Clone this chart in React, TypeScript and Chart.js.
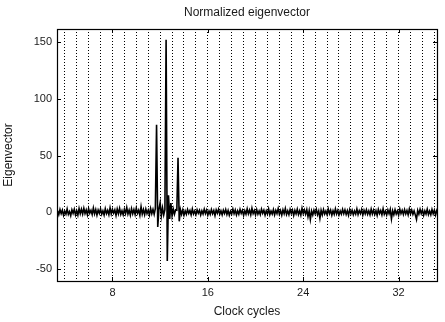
import React, { useEffect, useRef } from 'react';
import { Chart, registerables } from 'chart.js';

Chart.register(...registerables);

const TITLE = 'Normalized eigenvector';
const X_TITLE = 'Clock cycles';
const Y_TITLE = 'Eigenvector';

const X_MIN = 3.35;
const X_MAX = 35.22;
const Y_MIN = -60.6;
const Y_MAX = 161.5;

const X_LABEL_TICKS = [8, 16, 24, 32];
const X_GRID_TICKS = [4, 5, 6, 7, 8, 9, 10, 11, 12, 13, 14, 15, 16, 17, 18, 19, 20, 21, 22, 23, 24, 25, 26, 27, 28, 29, 30, 31, 32, 33, 34, 35];
const Y_TICKS = [-50, 0, 50, 100, 150];

// sampling grid of the trace (clock cycles)
const SAMPLE_START = 3.4;
const SAMPLE_STEP = 0.1;

const eigen = [
  1.4, -2.1, 2.4, -1.2, 1.8, -2.7, 1.0, -1.6, 2.9, -1.9, 0.6, -3.0, 2.2, -0.9, 2.6, -2.3, 1.4, -2.5, 3.3, -1.3,
  2.7, -1.6, 3.5, -1.1, 2.0, -2.3, 3.2, -0.8, 1.7, -2.0, 3.7, -1.4, 2.3, -2.6, 1.9, -1.0, 3.0, -1.7, 1.2, -2.4,
  3.1, -1.2, 1.6, -2.1, 3.9, -1.5, 2.5, -0.7, 2.1, -2.8, 2.8, -1.3, 3.4, -1.9, 1.3, -2.3, 2.6, -1.1, 4.1, -1.6,
  1.9, -2.5, 3.2, -1.4, 2.3, -2.0, 3.6, -0.9, 1.8, -2.7, 4.9, -1.6, 2.4, -2.2, 2.9, -1.2, 1.7, -2.4, 3.3, -1.3,
  2.5, -1.9, 3.3, 77, -13, 2.8, 8.5, -3.3, 3.8, -2.3, 2.3, 152, -43, 15, -6, 8.0, -3.3, 2.8, -1.8, 2.1,
  1.8, 48, -8, 2.3, -1.8, 2.1, -2.6, 1.2, -1.7, 2.5, -1.0, 1.6, -2.3, 2.9, -1.5, 1.1, -2.1, 2.2, -0.8, 1.7,
  -2.4, 1.3, -1.6, 2.7, -1.1, 1.9, -2.5, 1.0, -1.8, 2.3, -1.3, 1.5, -2.9, 2.1, -0.9, 2.6, -1.7, 1.2, -2.2, 1.8,
  -1.1, 2.4, -1.9, 1.6, -2.6, 0.9, -1.5, 2.8, -1.3, 2.0, -2.3, 1.2, -1.8, 2.5, -1.0, 1.7, -2.7, 1.4, -1.6, 3.1,
  -1.4, 1.9, -2.2, 3.5, -1.2, 1.5, -2.4, 2.3, -1.7, 1.1, -2.0, 2.7, -0.9, 1.8, -2.5, 1.3, -1.5, 2.9, -2.1, 1.0,
  -1.6, 2.4, -2.3, 1.7, -1.1, 3.2, -1.8, 1.4, -2.6, 2.1, -1.3, 3.3, -1.9, 1.2, -2.2, 2.5, -1.0, 1.9, -2.8, 1.6,
  -1.4, 2.7, -2.0, 1.3, -2.5, 3.4, -1.2, 2.0, -1.7, 2.3, -3.8, 1.5, -6.3, 1.1, -2.4, 1.8, -1.3, 2.6, -2.1, 1.2,
  -5.3, 1.7, -2.3, 2.4, -1.6, 1.0, -2.1, 2.8, -1.2, 1.9, -2.6, 1.3, -1.8, 3.0, -1.4, 1.6, -2.3, 1.1, -1.7, 2.5,
  -1.2, 2.1, -1.9, 1.4, -2.7, 2.3, -1.3, 1.8, -2.2, 1.1, -1.6, 2.9, -2.0, 1.5, -1.1, 2.4, -2.5, 1.7, -1.4, 2.2,
  -1.8, 1.2, -2.3, 2.7, -1.5, 1.9, -2.0, 1.3, -2.8, 2.5, -1.1, 1.6, -2.2, 3.1, -1.7, 1.0, -2.4, 2.0, -1.3, 2.6,
  -5.8, 1.4, -2.1, 2.2, -1.6, 1.1, -2.5, 2.8, -1.2, 1.7, -1.9, 2.3, -1.5, 1.5, -2.3, 2.9, -1.4, 1.9, -1.8, 1.2,
  -2.3, -6.3, 1.6, -1.7, 2.5, -1.1, 2.0, -2.6, 1.3, -1.5, 2.7, -2.0, 1.1, -2.2, 2.4, -1.3, 1.8, -2.4, 1.5, -1.2,
];

const FONT_FAMILY = '"Liberation Sans", Arial, Helvetica, sans-serif';
const TEXT_COLOR = '#1a1a1a';

const framePlugin = {
  id: 'frameAndTicks',
  afterDatasetsDraw(chart: any) {
    const { ctx, chartArea } = chart;
    const { left, right, top, bottom } = chartArea;
    const xs = chart.scales.x;
    const ys = chart.scales.y;
    const len = 4;
    ctx.save();
    ctx.strokeStyle = '#000';
    ctx.lineWidth = 1;
    ctx.setLineDash([]);
    ctx.beginPath();
    for (const v of X_LABEL_TICKS) {
      const px = Math.round(xs.getPixelForValue(v)) + 0.5;
      ctx.moveTo(px, bottom);
      ctx.lineTo(px, bottom - len);
      ctx.moveTo(px, top);
      ctx.lineTo(px, top + len);
    }
    for (const v of Y_TICKS) {
      const py = Math.round(ys.getPixelForValue(v)) + 0.5;
      ctx.moveTo(left, py);
      ctx.lineTo(left + len, py);
      ctx.moveTo(right, py);
      ctx.lineTo(right - len, py);
    }
    ctx.stroke();
    ctx.lineWidth = 1.2;
    ctx.strokeRect(Math.round(left) + 0.5, Math.round(top) + 0.5, Math.round(right - left), Math.round(bottom - top));
    ctx.restore();
  },
  afterDraw(chart: any) {
    const { ctx, chartArea } = chart;
    ctx.save();
    ctx.fillStyle = TEXT_COLOR;
    ctx.font = `12px ${FONT_FAMILY}`;
    ctx.textAlign = 'center';
    ctx.textBaseline = 'middle';
    ctx.fillText(TITLE, (chartArea.left + chartArea.right) / 2, 13);
    ctx.restore();
  },
};

export default function App() {
  const canvasRef = useRef<HTMLCanvasElement | null>(null);

  useEffect(() => {
    document.body.style.margin = '0';
    const canvas = canvasRef.current;
    if (!canvas) return;
    const points = eigen.map((v, i) => ({ x: SAMPLE_START + i * SAMPLE_STEP, y: v }));
    const chart = new Chart(canvas, {
      type: 'line',
      data: {
        datasets: [
          {
            data: points,
            borderColor: '#000',
            borderWidth: 1.6,
            pointRadius: 0,
            tension: 0,
            fill: false,
          },
        ],
      },
      plugins: [framePlugin],
      options: {
        responsive: false,
        animation: false,
        devicePixelRatio: 1,
        layout: { padding: { top: 29, right: 8, left: 0, bottom: 0 } },
        plugins: {
          legend: { display: false },
          title: { display: false },
          tooltip: { enabled: false },
        },
        scales: {
          x: {
            type: 'linear',
            min: X_MIN,
            max: X_MAX,
            afterBuildTicks: (scale: any) => {
              scale.ticks = X_GRID_TICKS.map((v) => ({ value: v }));
            },
            afterFit: (scale: any) => {
              scale.height = 41;
            },
            grid: {
              display: true,
              drawOnChartArea: true,
              drawTicks: false,
              color: '#000',
              lineWidth: 1,
            },
            border: { display: false, dash: [1, 2] },
            ticks: {
              autoSkip: false,
              maxRotation: 0,
              padding: 5,
              color: TEXT_COLOR,
              font: { family: FONT_FAMILY, size: 11 },
              callback: (v: any) => (X_LABEL_TICKS.includes(Number(v)) ? String(v) : ''),
            },
            title: {
              display: true,
              text: X_TITLE,
              color: TEXT_COLOR,
              font: { family: FONT_FAMILY, size: 12 },
              padding: { top: 0, bottom: 3 },
            },
          },
          y: {
            type: 'linear',
            min: Y_MIN,
            max: Y_MAX,
            afterBuildTicks: (scale: any) => {
              scale.ticks = Y_TICKS.map((v) => ({ value: v }));
            },
            afterFit: (scale: any) => {
              scale.width = 57;
            },
            grid: { display: false, drawTicks: false },
            border: { display: false },
            ticks: {
              padding: 5,
              color: TEXT_COLOR,
              font: { family: FONT_FAMILY, size: 11 },
              callback: (v: any) => String(v),
            },
            title: {
              display: true,
              text: Y_TITLE,
              color: TEXT_COLOR,
              font: { family: FONT_FAMILY, size: 12 },
              padding: { top: 1, bottom: 0 },
            },
          },
        },
      },
    });
    return () => chart.destroy();
  }, []);

  return (
    <div style={{ width: 445, height: 322 }}>
      <canvas ref={canvasRef} width={445} height={322} style={{ width: 445, height: 322, display: 'block' }} />
    </div>
  );
}
